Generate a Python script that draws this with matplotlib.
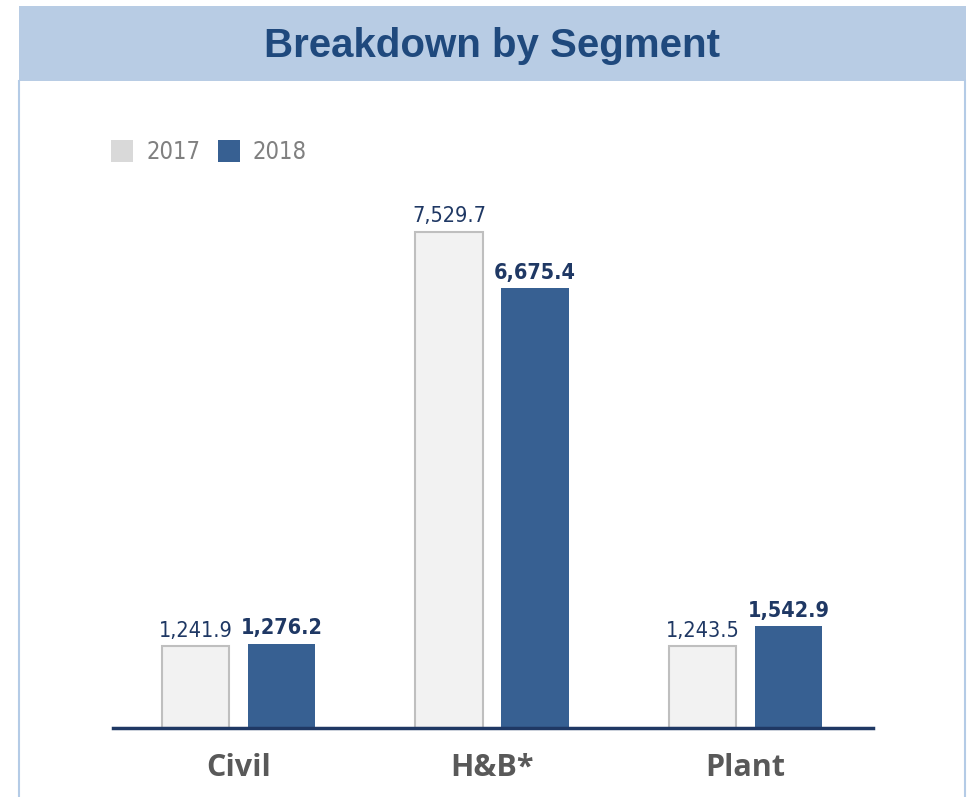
import numpy as np
import matplotlib.pyplot as plt
from matplotlib.patches import Rectangle
from matplotlib.lines import Line2D

segments = ['Civil', 'H&B*', 'Plant']
years = ['2017', '2018']
values_2017 = [1241.9, 7529.7, 1243.5]
values_2018 = [1276.2, 6675.4, 1542.9]

W, H = 973, 797
fig = plt.figure(figsize=(W / 100, H / 100), dpi=100)

narrow = dict(family='DejaVu Sans', fontstretch='condensed')
navy = '#1F3864'
blue = '#376092'

# header band and frame
fig.patches.append(Rectangle((19 / W, 1 - 81 / H), (966 - 19) / W, (81 - 6) / H,
                             transform=fig.transFigure, facecolor='#B8CCE4',
                             edgecolor='none', zorder=0))
for x in (19, 965):
    fig.lines.append(Line2D([x / W, x / W], [0, 1 - 81 / H], transform=fig.transFigure,
                            color='#B4CBE6', lw=1.5))
fig.text(492 / W, 1 - 46 / H, 'Breakdown by Segment', ha='center', va='center',
         fontsize=29, fontweight='bold', color='#1F497D', family='Liberation Sans')

# axes: baseline at y=728, top at y=180
ax = fig.add_axes([113 / W, (H - 728) / H, 760 / W, (728 - 180) / H])
ax.set_xlim(-0.495, 2.503)
ax.set_ylim(0, 548 / (496 / 7529.7))

x = np.arange(len(segments))
w = 0.266
off = 0.169
b1 = ax.bar(x - off, values_2017, w, color='#F2F2F2', edgecolor='#BFBFBF', linewidth=1.5)
b2 = ax.bar(x + off, values_2018, w, color=blue, edgecolor=blue, linewidth=0)

for rect, v in zip(b1, values_2017):
    ax.annotate(f'{v:,.1f}', (rect.get_x() + rect.get_width() / 2, v),
                xytext=(0, 4), textcoords='offset points', ha='center', va='bottom',
                fontsize=15.5, color=navy, **narrow)
for rect, v in zip(b2, values_2018):
    ax.annotate(f'{v:,.1f}', (rect.get_x() + rect.get_width() / 2, v),
                xytext=(0, 4), textcoords='offset points', ha='center', va='bottom',
                fontsize=15.5, fontweight='bold', color=navy, **narrow)

for s in ['top', 'right', 'left']:
    ax.spines[s].set_visible(False)
ax.spines['bottom'].set_color(navy)
ax.spines['bottom'].set_linewidth(2.5)
ax.set_yticks([])
ax.set_xticks(x)
ax.set_xticklabels(segments, fontsize=22, fontweight='bold', color='#595959',
                   family='Open Sans')
ax.tick_params(axis='x', length=0, pad=18)
ax.patch.set_visible(False)

# legend
leg_colors = ['#D9D9D9', blue]
for lx, tx, c, yr in zip([111, 218], [146, 252], leg_colors, years):
    fig.patches.append(Rectangle((lx / W, 1 - 162 / H), 22 / W, 22 / H,
                                 transform=fig.transFigure, facecolor=c, edgecolor='none'))
    fig.text(tx / W, 1 - 152 / H, yr, ha='left', va='center', fontsize=17,
             color='#808080', **narrow)

fig.savefig('out.png', dpi=100)
